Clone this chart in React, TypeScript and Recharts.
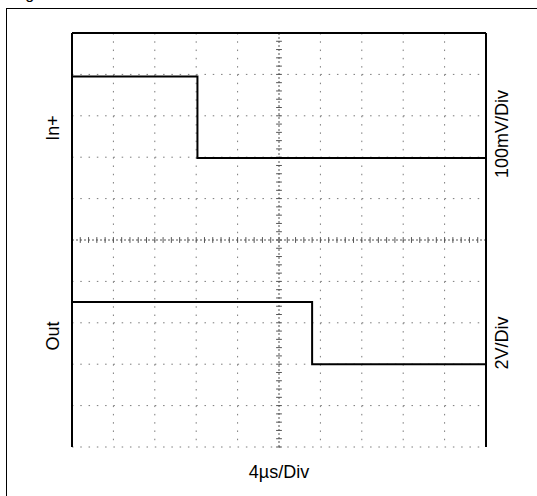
import React from 'react';
import { LineChart, Line, XAxis, YAxis, ReferenceLine } from 'recharts';

// scope screen: 10 x 10 divisions, values in divisions from the bottom
const DIVS = [0, 1, 2, 3, 4, 5, 6, 7, 8, 9, 10];
const GRID = [0, 1, 2, 3, 4, 6, 7, 8, 9];
const MINOR = [
  0, 0.2, 0.4, 0.6, 0.8, 1, 1.2, 1.4, 1.6, 1.8, 2, 2.2, 2.4, 2.6, 2.8, 3, 3.2, 3.4, 3.6, 3.8,
  4, 4.2, 4.4, 4.6, 4.8, 5, 5.2, 5.4, 5.6, 5.8, 6, 6.2, 6.4, 6.6, 6.8, 7, 7.2, 7.4, 7.6, 7.8,
  8, 8.2, 8.4, 8.6, 8.8, 9, 9.2, 9.4, 9.6, 9.8, 10,
];

const IN_T = [0, 3.03, 10];
const IN_V = [8.95, 6.98, 6.98];
const OUT_T = [0, 5.8, 10];
const OUT_V = [3.5, 2.0, 2.0];

const inData = IN_T.map((t, i) => ({ t, v: IN_V[i] }));
const outData = OUT_T.map((t, i) => ({ t, v: OUT_V[i] }));

const FONT = '"Liberation Sans", Arial, Helvetica, sans-serif';

function Txt({ text, cx, cy, rot = false }: { text: string; cx: number; cy: number; rot?: boolean }) {
  return (
    <div style={{
      position: 'absolute', left: cx, top: cy, fontFamily: FONT, fontSize: 18, lineHeight: '18px',
      whiteSpace: 'nowrap', color: '#000',
      transform: `translate(-50%, -50%)${rot ? ' rotate(-90deg)' : ''}`,
    }}>{text}</div>
  );
}

export default function App() {
  const axisLine = { stroke: '#000', strokeWidth: 2 };
  const dots = { stroke: '#7a7a7a', strokeDasharray: '1.5 6.78' };
  return (
    <div style={{ position: 'absolute', left: 0, top: 0, width: 537, height: 496, overflow: 'hidden', background: '#fff' }}>
      <div style={{ position: 'absolute', left: 12, top: -14, fontFamily: FONT, fontSize: 16, lineHeight: '16px' }}>Figure</div>
      <div style={{ position: 'absolute', left: 6, top: 8, width: 700, height: 700, borderLeft: '1.5px solid #000', borderTop: '1.5px solid #000' }} />
      <div style={{ position: 'absolute', left: 0, top: 0 }}>
        <LineChart width={537} height={496} margin={{ top: 33, left: 72, right: 51, bottom: 49 }}>
          <XAxis xAxisId="x" dataKey="t" type="number" domain={[0, 10]} ticks={DIVS} orientation="top" mirror
            tick={false} tickLine={false} axisLine={axisLine} allowDataOverflow />
          <YAxis yAxisId="l" type="number" domain={[0, 10]} ticks={DIVS} mirror
            tick={false} tickLine={false} axisLine={axisLine} allowDataOverflow />
          <YAxis yAxisId="r" type="number" domain={[0, 10]} ticks={MINOR} orientation="right" mirror
            tick={false} tickSize={3} tickLine={{ stroke: '#000', strokeWidth: 1.5 }} axisLine={axisLine} />
          {GRID.map(g => (
            <ReferenceLine key={'gx' + g} xAxisId="x" yAxisId="l" x={g} {...dots} />
          ))}
          {GRID.map(g => (
            <ReferenceLine key={'gy' + g} xAxisId="x" yAxisId="l" y={g} {...dots} />
          ))}
          <ReferenceLine xAxisId="x" yAxisId="l" x={5} stroke="#555" strokeDasharray="2 2" />
          <ReferenceLine xAxisId="x" yAxisId="l" y={5} stroke="#555" strokeDasharray="2 2" />
          {MINOR.map(m => (
            <ReferenceLine key={'h' + m} xAxisId="x" yAxisId="l" segment={[{ x: m, y: 4.93 }, { x: m, y: 5.07 }]} stroke="#555" />
          ))}
          {MINOR.map(m => (
            <ReferenceLine key={'v' + m} xAxisId="x" yAxisId="l" segment={[{ x: 4.93, y: m }, { x: 5.07, y: m }]} stroke="#555" />
          ))}
          <Line xAxisId="x" yAxisId="l" data={inData} dataKey="v" type="stepAfter" stroke="#000" strokeWidth={2}
            dot={false} isAnimationActive={false} />
          <Line xAxisId="x" yAxisId="l" data={outData} dataKey="v" type="stepAfter" stroke="#000" strokeWidth={2}
            dot={false} isAnimationActive={false} />
        </LineChart>
      </div>
      <Txt text="In+" cx={53} cy={128} rot />
      <Txt text="Out" cx={53} cy={336} rot />
      <Txt text="100mV/Div" cx={502} cy={134} rot />
      <Txt text="2V/Div" cx={502} cy={343} rot />
      <Txt text="4µs/Div" cx={279} cy={472} />
    </div>
  );
}
